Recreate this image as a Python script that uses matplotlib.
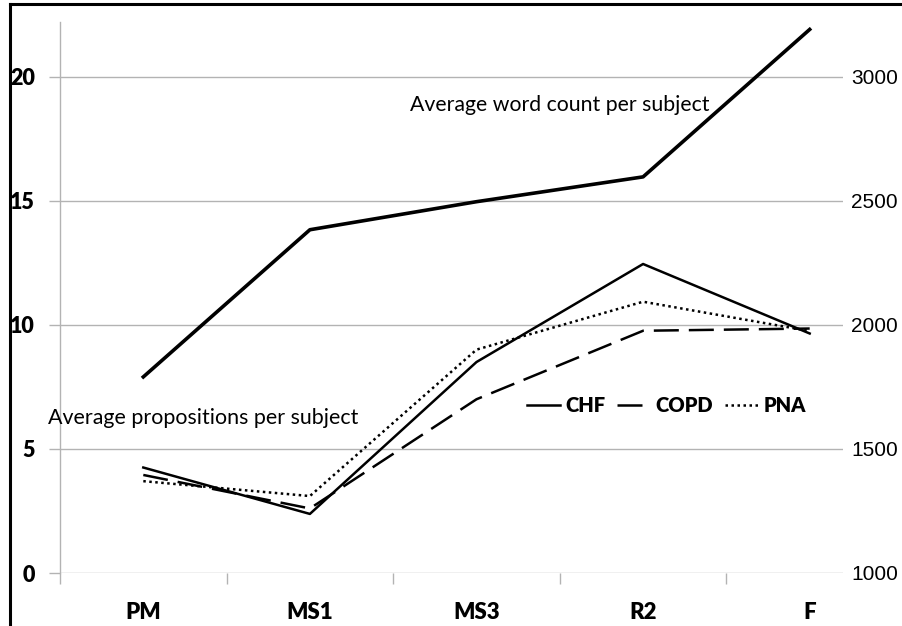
import matplotlib
matplotlib.use("Agg")
import matplotlib.pyplot as plt
from matplotlib.lines import Line2D

categories = ["PM", "MS1", "MS3", "R2", "F"]
chf = [4.25, 2.38, 8.5, 12.45, 9.65]
copd = [3.95, 2.6, 7.0, 9.76, 9.85]
pna = [3.7, 3.1, 9.0, 10.93, 9.75]
word_count = [1790, 2383, 2496, 2596, 3190]
left_ticks = [0, 5, 10, 15, 20]
right_ticks = [1000, 1500, 2000, 2500, 3000]

W, H = 902, 626
fig = plt.figure(figsize=(W / 100, H / 100), dpi=100)
fig.patch.set_facecolor("white")

ax = fig.add_axes([60 / W, 1 - 573 / H, (843 - 60) / W, (573 - 22) / H])
ax2 = ax.twinx()

x = list(range(len(categories)))
ax.set_xlim(-0.5, 4.2)
ax.set_ylim(0, 22.2)
ax2.set_ylim(1000, 3220)

grid_c = "#b3b3b3"
for t in left_ticks:
    ax.axhline(t, color=grid_c, lw=1.0, zorder=0)

lw = 1.8
ax.plot(x, chf, color="black", lw=lw, ls="-", label="CHF", zorder=3)
ax.plot(x, copd, color="black", lw=lw, ls=(0, (10, 4)), label="COPD", zorder=3)
ax.plot(x, pna, color="black", lw=lw, ls=(0, (1, 1.4)), label="PNA", zorder=3)
ax2.plot(x, word_count, color="black", lw=2.6, clip_on=False, zorder=3)

for a in (ax, ax2):
    for s in a.spines.values():
        s.set_visible(False)

bold_fam = ["Lato", "DejaVu Sans"]
ax.set_yticks(left_ticks)
ax.set_yticklabels([str(t) for t in left_ticks], fontsize=15.5, fontweight="heavy",
                   family=bold_fam)
ax.tick_params(axis="y", length=8, color=grid_c, pad=10, width=1)

ax2.set_yticks(right_ticks)
ax2.set_yticklabels([str(t) for t in right_ticks], fontsize=15,
                    family=["Liberation Sans", "DejaVu Sans"])
ax2.tick_params(axis="y", length=0, pad=6)

ax.set_xticks(x)
ax.set_xticklabels(categories, fontsize=16, fontweight="heavy", family=bold_fam)
ax.tick_params(axis="x", length=0, pad=21)
ax.set_xticks([-0.5, 0.5, 1.5, 2.5, 3.5], minor=True)
ax.tick_params(axis="x", which="minor", length=8, color=grid_c, width=1)

# left gray axis line extending below the x axis
ax.plot([-0.5, -0.5], [0, 22.2], color=grid_c, lw=1.0, clip_on=False, zorder=1)

ax.legend(loc="center left", bbox_to_anchor=(527 / W, 1 - 406 / H),
          bbox_transform=fig.transFigure, ncol=3, frameon=False,
          prop={"family": bold_fam, "weight": "heavy", "size": 14.5},
          handlelength=1.65, handletextpad=0.25, columnspacing=0.6,
          borderaxespad=0, borderpad=0)

fig.text(410 / W, 1 - 105 / H, "Average word count per subject", fontsize=15.3,
         family=bold_fam, va="center", ha="left")
fig.text(48 / W, 1 - 418 / H, "Average propositions per subject", fontsize=15.4,
         family=bold_fam, va="center", ha="left")

# outer border (left and top)
fig.add_artist(Line2D([10 / W, 10 / W], [0, 1 - 4 / H], color="black", lw=2.2,
                      transform=fig.transFigure))
fig.add_artist(Line2D([10 / W, 1], [1 - 4 / H, 1 - 4 / H], color="black", lw=2.2,
                      transform=fig.transFigure))

fig.savefig("out.png", dpi=100)
